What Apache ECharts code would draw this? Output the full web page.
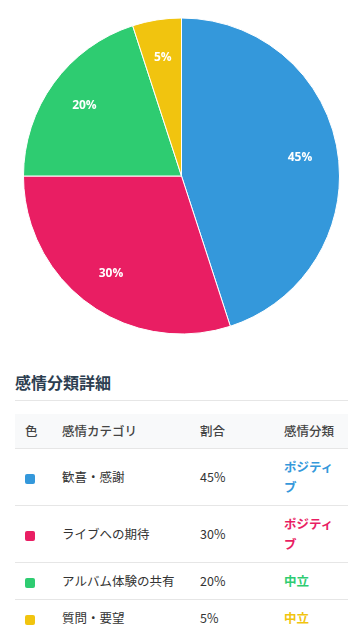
<!DOCTYPE html>
<html>
<head>
<meta charset="utf-8">
<script src="https://cdn.jsdelivr.net/npm/echarts@6/dist/echarts.min.js"></script>
<style>
  html, body { margin: 0; padding: 0; background: #fff; width: 363px; height: 643px; overflow: hidden;
    font-family: "Noto Sans CJK JP", "Noto Sans", sans-serif; }
  #chart { position: absolute; left: 0; top: 0; width: 363px; height: 352px; }
  #title { position: absolute; left: 15px; top: 371px; margin: 0; font-size: 16px; line-height: 22px;
    font-weight: bold; color: #2c3e50; }
  #rule { position: absolute; left: 15px; top: 400px; width: 333px; height: 0; border-top: 1px solid #e6e6e6; }
  #tbl { position: absolute; left: 15px; top: 414px; width: 333px; border-collapse: collapse; table-layout: fixed;
    font-size: 12.5px; color: #333; }
  #tbl th { background: #f8f9fa; font-weight: 500; color: #444; text-align: left; padding: 8px 10px; height: 18px;
    line-height: 18px; border-bottom: 1px solid #e6e6e6; }
  #tbl td { padding: 8px 10px; line-height: 20px; border-bottom: 1px solid #e6e6e6; vertical-align: middle; }
  #tbl tr:last-child td { border-bottom: none; }
  .sw { display: inline-block; width: 10px; height: 10px; border-radius: 2px; vertical-align: middle; }
  .sent { font-weight: bold; }
</style>
</head>
<body>
<div id="chart"></div>
<h3 id="title">感情分類詳細</h3>
<div id="rule"></div>
<table id="tbl">
  <colgroup><col style="width:37px"><col style="width:138px"><col style="width:84px"><col style="width:74px"></colgroup>
  <thead><tr><th>色</th><th>感情カテゴリ</th><th>割合</th><th>感情分類</th></tr></thead>
  <tbody id="tbody"></tbody>
</table>
<script>
const categories = ["歓喜・感謝", "ライブへの期待", "アルバム体験の共有", "質問・要望"];
const values = [45, 30, 20, 5];
const colors = ["#3498db", "#e91e63", "#2ecc71", "#f1c40f"];
const sentiments = ["ポジティブ", "ポジティブ", "中立", "中立"];
const headers = ["色", "感情カテゴリ", "割合", "感情分類"];

const data = categories.map((c, i) => ({ name: c, value: values[i], itemStyle: { color: colors[i] } }));

const chart = echarts.init(document.getElementById('chart'));
chart.setOption({
  animation: false,
  series: [
    {
      type: 'pie',
      center: ['50%', '50%'],
      radius: 158,
      startAngle: 90,
      clockwise: true,
      data: data,
      itemStyle: { borderColor: '#fff', borderWidth: 1 },
      label: { show: false },
      labelLine: { show: false }
    },
    {
      type: 'pie',
      center: ['50%', '50%'],
      radius: 234,
      startAngle: 90,
      clockwise: true,
      silent: true,
      data: data.map(d => ({ name: d.name, value: d.value, itemStyle: { color: 'rgba(0,0,0,0)' } })),
      label: { show: true, position: 'inside', formatter: '{c}%', color: '#fff', fontWeight: 'bold',
        fontSize: 12, fontFamily: 'Open Sans, Noto Sans, sans-serif' },
      labelLine: { show: false }
    }
  ]
});

const tbody = document.getElementById('tbody');
categories.forEach((c, i) => {
  const tr = document.createElement('tr');
  tr.innerHTML = '<td><span class="sw" style="background:' + colors[i] + '"></span></td>' +
    '<td>' + c + '</td><td>' + values[i] + '%</td>' +
    '<td class="sent" style="color:' + colors[i] + '">' + sentiments[i] + '</td>';
  tbody.appendChild(tr);
});
</script>
</body>
</html>
